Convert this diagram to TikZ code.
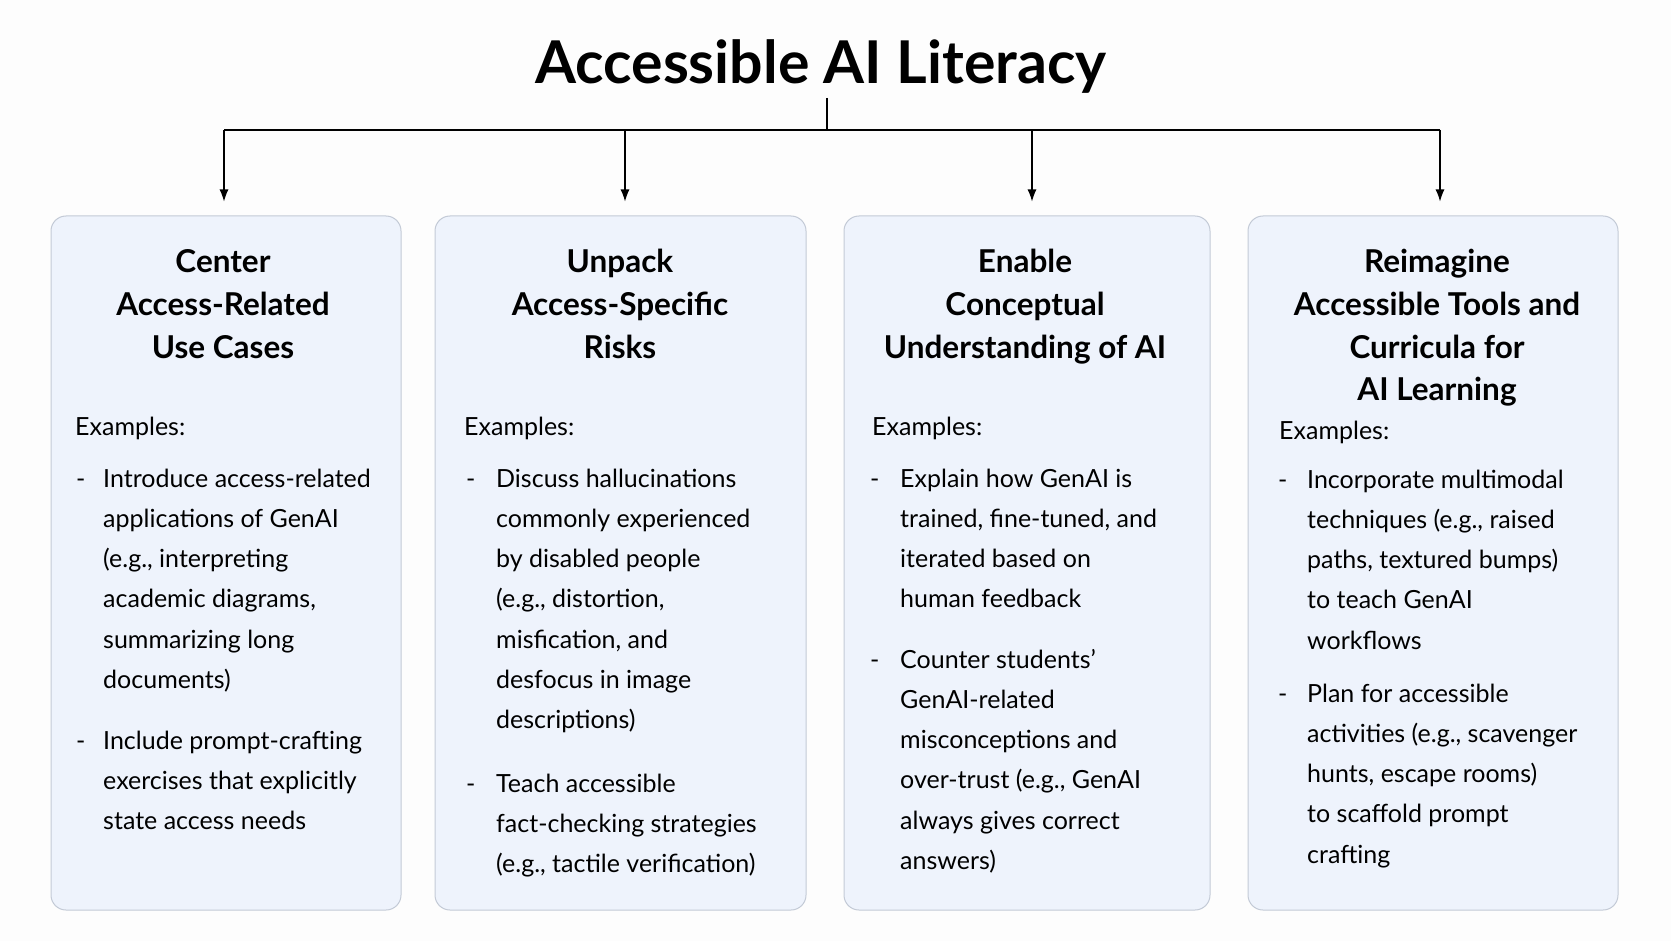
\documentclass[tikz,border=0pt]{standalone}
\usepackage{fontspec}
\setmainfont{Lato}
\usetikzlibrary{arrows.meta}
\definecolor{bgcol}{HTML}{FDFDFD}
\definecolor{boxfill}{HTML}{EEF3FC}
\definecolor{boxline}{HTML}{C3CAD6}
\newcommand{\bodyfnt}{\fontsize{25}{40.3}\selectfont}
\newcommand{\headfnt}{\fontsize{31.5}{42.6}\selectfont\bfseries}
\newcommand{\headblock}[1]{\parbox[t]{360pt}{\centering\headfnt #1}}
\newcommand{\bodyblock}[1]{\parbox[t]{330pt}{\raggedright\bodyfnt #1}}
\tikzset{
  cardbox/.style={draw=boxline, fill=boxfill, line width=1pt, rounded corners=15pt, inner sep=0pt},
  headtxt/.style={anchor=base, inner sep=0pt},
  bodytxt/.style={anchor=base west, inner sep=0pt},
  link/.style={draw=black, line width=1.2pt},
  barlink/.style={draw=black, line width=1.8pt},
  arrowlink/.style={draw=black, line width=1.2pt, -{Latex[length=12pt,width=9pt]}, shorten >=14pt}
}
\begin{document}
\begin{tikzpicture}[x=1pt,y=-1pt]
\path[fill=bgcol] (0,0) rectangle (1671,941);
\useasboundingbox (0,0) rectangle (1671,941);

% title
\node[font=\fontsize{59}{64}\selectfont\bfseries, anchor=base, inner sep=0pt] (title) at (821,84) {Accessible AI Literacy};

% cards
\node[cardbox, minimum width=350pt, minimum height=694pt] (b1) at (226,563) {};
\node[cardbox, minimum width=371pt, minimum height=694pt] (b2) at (620.5,563) {};
\node[cardbox, minimum width=366pt, minimum height=694pt] (b3) at (1027,563) {};
\node[cardbox, minimum width=370pt, minimum height=694pt] (b4) at (1433,563) {};

% connectors
\coordinate (top) at (827,98);
\coordinate (j) at (827,130);
\coordinate (m1) at (224,130);
\coordinate (m2) at (625,130);
\coordinate (m3) at (1032,130);
\coordinate (m4) at (1440,130);
\draw[link] (top) -- (j);
\draw[barlink] (m1) -- (m4);
\draw[arrowlink] (m1) -- (b1.north -| m1);
\draw[arrowlink] (m2) -- (b2.north -| m2);
\draw[arrowlink] (m3) -- (b3.north -| m3);
\draw[arrowlink] (m4) -- (b4.north -| m4);

% card 1
\node[headtxt] (h1) at (223,273) {\headblock{Center\\Access-Related\\Use Cases}};
\node[bodytxt] (e1) at (75,435.5) {\bodyfnt Examples:};
\node[bodytxt] (d1a) at (76,487) {\bodyfnt -};
\node[bodytxt] (t1a) at (103,487) {\bodyblock{Introduce access-related\\applications of GenAI\\(e.g., interpreting\\academic diagrams,\\summarizing long\\documents)}};
\node[bodytxt] (d1b) at (76,749) {\bodyfnt -};
\node[bodytxt] (t1b) at (103,749) {\bodyblock{Include prompt-crafting\\exercises that explicitly\\state access needs}};

% card 2
\node[headtxt] (h2) at (620,273) {\headblock{Unpack\\Access-Specific\\Risks}};
\node[bodytxt] (e2) at (464,435.5) {\bodyfnt Examples:};
\node[bodytxt] (d2a) at (466,487) {\bodyfnt -};
\node[bodytxt] (t2a) at (496,487) {\bodyblock{Discuss hallucinations\\commonly experienced\\by disabled people\\(e.g., distortion,\\misfication, and\\desfocus in image\\descriptions)}};
\node[bodytxt] (d2b) at (466,792) {\bodyfnt -};
\node[bodytxt] (t2b) at (496,792) {\bodyblock{Teach accessible\\fact-checking strategies\\(e.g., tactile verification)}};

% card 3
\node[headtxt] (h3) at (1025,273) {\headblock{Enable\\Conceptual\\Understanding of AI}};
\node[bodytxt] (e3) at (872,435.5) {\bodyfnt Examples:};
\node[bodytxt] (d3a) at (870,487) {\bodyfnt -};
\node[bodytxt] (t3a) at (900,487) {\bodyblock{Explain how GenAI is\\trained, fine-tuned, and\\iterated based on\\human feedback}};
\node[bodytxt] (d3b) at (870,668) {\bodyfnt -};
\node[bodytxt] (t3b) at (900,668) {\bodyblock{Counter students’\\GenAI-related\\misconceptions and\\over-trust (e.g., GenAI\\always gives correct\\answers)}};

% card 4
\node[headtxt] (h4) at (1437,273) {\headblock{Reimagine\\Accessible Tools and\\Curricula for\\AI Learning}};
\node[bodytxt] (e4) at (1279,439) {\bodyfnt Examples:};
\node[bodytxt] (d4a) at (1278,488) {\bodyfnt -};
\node[bodytxt] (t4a) at (1307,488) {\bodyblock{Incorporate multimodal\\techniques (e.g., raised\\paths, textured bumps)\\to teach GenAI\\workflows}};
\node[bodytxt] (d4b) at (1278,702) {\bodyfnt -};
\node[bodytxt] (t4b) at (1307,702) {\bodyblock{Plan for accessible\\activities (e.g., scavenger\\hunts, escape rooms)\\to scaffold prompt\\crafting}};
\end{tikzpicture}
\end{document}
